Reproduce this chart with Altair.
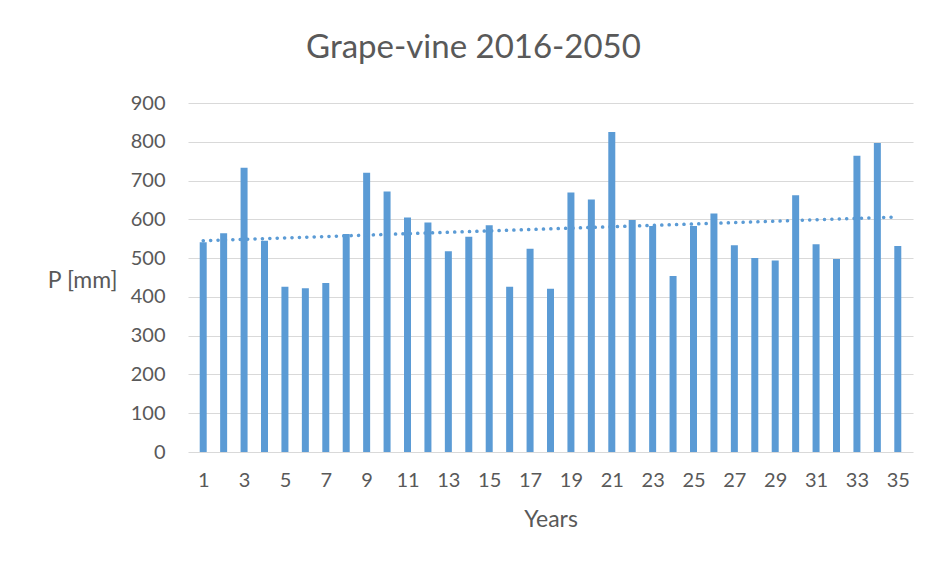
import altair as alt
import pandas as pd

years = list(range(1, 36))
precip = [541, 564, 733, 545, 426, 422, 436, 562, 720, 672,
          605, 592, 518, 555, 585, 426, 524, 421, 669, 651,
          825, 598, 583, 454, 583, 615, 533, 500, 494, 662,
          536, 498, 764, 797, 531]
tick_values = list(range(1, 36, 2))
y_ticks = list(range(0, 1000, 100))

df = pd.DataFrame({"Year": years, "P": precip})

FONT = "Lato"
GREY = "#595959"
BLUE = "#5B9BD5"

x_scale = alt.Scale(domain=[0.5, 35.5], nice=False, zero=False)
y_scale = alt.Scale(domain=[0, 900], nice=False)

x_axis = alt.Axis(values=tick_values, grid=False, ticks=False, domain=False,
                  labelOverlap=False,
                  labelFont=FONT, labelFontSize=20, labelColor=GREY, labelPadding=18,
                  title="Years", titleFont=FONT, titleFontSize=23, titleColor=GREY,
                  titleFontWeight="normal", titlePadding=18)
y_axis = alt.Axis(values=y_ticks, tickCount=10, grid=True, gridColor="#d9d9d9", gridWidth=1,
                  ticks=False, domain=False, labelOverlap=False,
                  labelFont=FONT, labelFontSize=20, labelColor=GREY, labelPadding=23,
                  title="P [mm]", titleFont=FONT, titleFontSize=23, titleColor=GREY,
                  titleFontWeight="normal", titleAngle=0, titleAlign="right",
                  titleBaseline="middle", titleX=-71, titleY=177)

bars = alt.Chart(df).mark_bar(color=BLUE, size=7).encode(
    x=alt.X("Year:Q", scale=x_scale, axis=x_axis),
    y=alt.Y("P:Q", scale=y_scale, axis=y_axis),
)

trend = alt.Chart(df).transform_regression("Year", "P", extent=[1, 35]).mark_line(
    color=BLUE, strokeWidth=3.5, strokeDash=[0.1, 7.3], strokeCap="round"
).encode(x=alt.X("Year:Q", scale=x_scale, axis=x_axis),
         y=alt.Y("P:Q", scale=y_scale, axis=y_axis))

chart = alt.layer(bars, trend).properties(
    width=725,
    height=349,
    autosize=alt.AutoSizeParams(type="none"),
    padding={"left": 180, "top": 95, "right": 16, "bottom": 100},
    title=alt.TitleParams("Grape-vine 2016-2050", font=FONT, fontSize=33, color=GREY,
                          fontWeight="normal", anchor="middle", dx=-77, offset=28),
).configure(background="white").configure_view(stroke=None, strokeWidth=0)

chart.save("out.html", embed_options={"renderer": "svg", "actions": False})
